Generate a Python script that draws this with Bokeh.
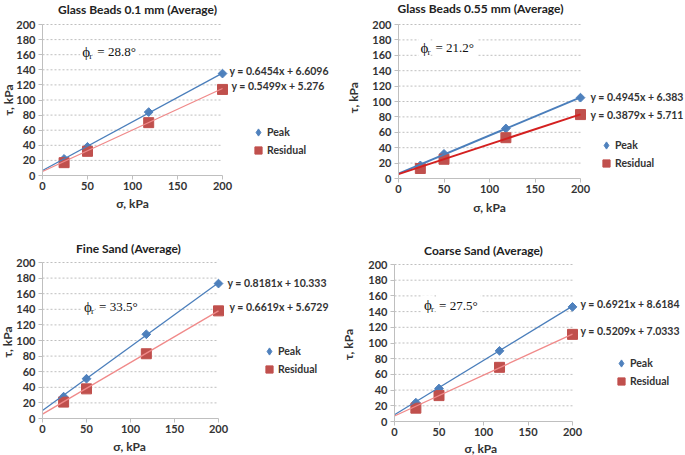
import math
from bokeh.plotting import figure
from bokeh.models import Range1d, FixedTicker, Label, Legend, LegendItem
from bokeh.layouts import row, column
from bokeh.embed import file_html
from bokeh.resources import INLINE

# ---------------- data ----------------
sigma = [24, 50, 118, 200]          # normal stress, kPa
titles = ["Glass Beads 0.1 mm (Average)", "Glass Beads 0.55 mm (Average)",
          "Fine Sand (Average)", "Coarse Sand (Average)"]
peak_gb01 = [22, 38, 84, 135]
res_gb01 = [17, 32, 70, 114]
peak_gb055 = [17, 32, 65, 105]
res_gb055 = [13, 25, 53, 83]
peak_fine = [28, 51, 108, 173]
res_fine = [21, 38, 83, 138]
peak_coarse = [24, 42, 90, 146]
res_coarse = [17, 33, 69, 111]
peak_slope = [0.6454, 0.4945, 0.8181, 0.6921]
peak_icpt = [6.6096, 6.383, 10.333, 8.6184]
res_slope = [0.5499, 0.3879, 0.6619, 0.5209]
res_icpt = [5.276, 5.711, 5.6729, 7.0333]
phi_r = [28.8, 21.2, 33.5, 27.5]
x_ticks = [0, 50, 100, 150, 200]
y_ticks = [0, 20, 40, 60, 80, 100, 120, 140, 160, 180, 200]
x_label = "σ, kPa"
y_label = "τ, kPa"
legend_labels = ["Peak", "Residual"]

peaks = [peak_gb01, peak_gb055, peak_fine, peak_coarse]
resids = [res_gb01, res_gb055, res_fine, res_coarse]

# ---------------- layout / style ----------------
FONT = "Lato"
TXT = "#333333"
AX = "#bfbfbf"
BLUE = "#4F81BD"
RED = "#C0504D"

# w,h: figure size; L,T: px offset of the data area (x=0 / y=200); W,H: data area size
geo = [
    dict(w=340, h=227, L=42, T=24, W=180, H=151, tdx=5, tdy=15, ydx=-34, yy=100, xx=100, xdy=-28,
         eq=[(7, 139), (9, 118)], phi=(42, 164), leg=(36, 25), thick=False),
    dict(w=345, h=227, L=58, T=24, W=182, H=154, tdx=-9, tdy=16, ydx=-45, yy=105, xx=100, xdy=-29,
         eq=[(10, 105.6), (10, 83)], phi=(22, 170), leg=(26, 15), thick=True),
    dict(w=340, h=228, L=42, T=35, W=176, H=156, tdx=-2, tdy=14, ydx=-35, yy=98, xx=99, xdy=-28,
         eq=[(9, 174), (11, 142.5)], phi=(45, 143), leg=(51, 49.5), thick=False),
    dict(w=345, h=228, L=54, T=37, W=178, H=157, tdx=0, tdy=14, ydx=-46, yy=98, xx=97, xdy=-27,
         eq=[(8, 150), (8, 115)], phi=(31, 148), leg=(49, 40), thick=False),
]


def lbl(p, x, y, text, dx=0, dy=0, size="11px", style="bold", font=FONT, align="left",
        baseline="middle", angle=0, bg=None, color=TXT, pad=None):
    kw = dict(x=x, y=y, x_units="data", y_units="data", x_offset=dx, y_offset=dy,
              text=text, text_font=font, text_font_size=size, text_font_style=style,
              text_color=color, text_align=align, text_baseline=baseline, angle=angle)
    if bg:
        kw["background_fill_color"] = bg
    if pad is not None:
        kw["padding"] = pad
    p.add_layout(Label(**kw))


figs = []
for i, g in enumerate(geo):
    sx = g["W"] / 200.0
    sy = g["H"] / 200.0
    B = g["h"] - g["T"] - g["H"]
    xr = Range1d(-g["L"] / sx, (g["w"] - g["L"]) / sx)
    yr = Range1d(-B / sy, 200 + g["T"] / sy)
    p = figure(width=g["w"], height=g["h"], x_range=xr, y_range=yr,
               min_border=0, min_border_left=0, min_border_right=0, min_border_top=0,
               min_border_bottom=0, output_backend="svg", toolbar_location=None, title=None)
    p.outline_line_color = None
    p.background_fill_color = "white"
    p.border_fill_color = "white"
    p.xgrid.visible = False
    p.ygrid.visible = False

    # horizontal dashed grid lines spanning the data area only
    n = len(y_ticks) - 1
    p.segment(x0=[x_ticks[0]] * n, x1=[x_ticks[-1]] * n, y0=y_ticks[1:], y1=y_ticks[1:],
              line_color=AX, line_dash="2 2", line_width=1)

    for ax in (p.xaxis[0], p.yaxis[0]):
        ax.fixed_location = 0
        ax.bounds = (0, 200)
        ax.axis_line_color = AX
        ax.major_tick_line_color = AX
        ax.major_tick_out = 4
        ax.major_tick_in = 0
        ax.minor_tick_out = 0
        ax.minor_tick_in = 0
        ax.major_label_text_font = FONT
        ax.major_label_text_font_size = "11px"
        ax.major_label_text_font_style = "bold"
        ax.major_label_text_color = TXT
    p.xaxis[0].ticker = FixedTicker(ticks=x_ticks)
    p.yaxis[0].ticker = FixedTicker(ticks=y_ticks)
    p.xaxis[0].major_label_standoff = 2
    p.yaxis[0].major_label_standoff = 3

    pk = peaks[i]
    rs = resids[i]
    # diamond renderer (used for the legend symbol), hidden beneath the 45-degree squares
    r_pk_leg = p.scatter(sigma, pk, marker="diamond", size=5, fill_color=BLUE, line_color=BLUE)
    p.scatter(sigma, pk, marker="square", size=6.2, angle=math.pi / 4,
              fill_color=BLUE, line_color=BLUE)
    r_rs = p.scatter(sigma, rs, marker="square", size=10, fill_color=RED, line_color=RED)

    xs = [x_ticks[0], x_ticks[-1]]
    lw = 2 if g["thick"] else 1.3
    p.line(xs, [peak_icpt[i] + peak_slope[i] * x for x in xs], line_color="#4a7ebb", line_width=lw)
    p.line(xs, [res_icpt[i] + res_slope[i] * x for x in xs],
           line_color="#d42020" if g["thick"] else "#f08a8a", line_width=lw)

    # title, axis labels
    lbl(p, 100, 200, titles[i], dx=g["tdx"], dy=g["tdy"], size="12px", align="center", color="#222222")
    lbl(p, 0, g["yy"], y_label, dx=g["ydx"], size="12px", align="center", angle=math.pi / 2)
    lbl(p, g["xx"], 0, x_label, dy=g["xdy"], size="12px", align="center")

    # trendline equations
    eqs = [f"y = {peak_slope[i]}x + {peak_icpt[i]}", f"y = {res_slope[i]}x + {res_icpt[i]}"]
    for (dx, yv), t in zip(g["eq"], eqs):
        lbl(p, 200, yv, t, dx=dx, size="10.5px")

    # phi_r annotation
    px, py = g["phi"]
    lbl(p, px, py, f"= {phi_r[i]}°", dx=14, size="13px", style="normal", font="Liberation Serif",
        bg="white", color="#111111", pad=3)
    lbl(p, px, py, "ϕ", size="15px", style="normal", font="Liberation Serif", bg="white",
        color="#111111", pad=2)
    lbl(p, px, py, "r", dx=9, dy=-4, size="9px", style="normal", font="Liberation Serif", color="#111111")

    # legend (location in px from the bottom-left of the plot area)
    d, rcy = g["leg"]
    legend = Legend(items=[LegendItem(label=legend_labels[0], renderers=[r_pk_leg]),
                           LegendItem(label=legend_labels[1], renderers=[r_rs])],
                    location=(g["L"] + g["W"] + d - 9, B + rcy - 9), orientation="vertical",
                    glyph_width=18, glyph_height=18, label_height=14, spacing=0, padding=0,
                    margin=0, label_standoff=0, border_line_color=None,
                    background_fill_alpha=0, label_text_font=FONT, label_text_font_size="10.5px",
                    label_text_font_style="bold", label_text_color=TXT)
    p.add_layout(legend)
    figs.append(p)

layout = column(row(figs[0], figs[1]), row(figs[2], figs[3]))
open("out.html", "w").write(file_html(layout, INLINE))
